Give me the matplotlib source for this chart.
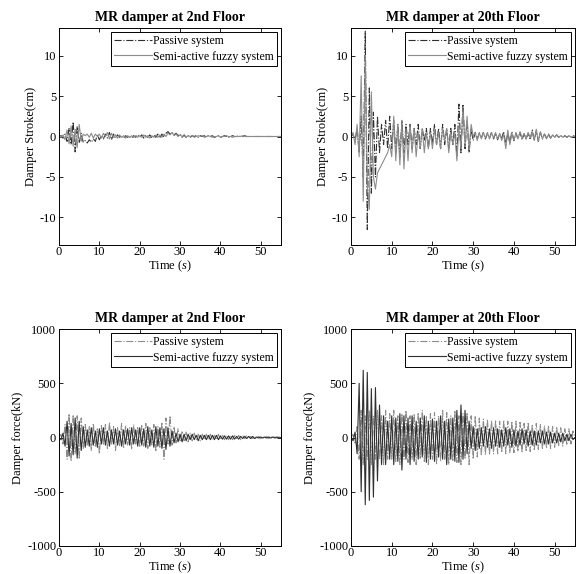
import numpy as np
import matplotlib
matplotlib.use("Agg")
import matplotlib.pyplot as plt

plt.rcParams['font.family'] = ['Liberation Serif', 'DejaVu Serif']
plt.rcParams['font.size'] = 9
plt.rcParams['axes.unicode_minus'] = False
plt.rcParams['mathtext.fontset'] = 'custom'
plt.rcParams['mathtext.rm'] = 'Liberation Serif'
plt.rcParams['mathtext.it'] = 'Liberation Serif:italic'

# Damper stroke (cm), MR damper at 2nd floor
stroke2_passive = [
    0.0, 0.1, -0.2, 0.3, -0.6, 1.0, -1.0, 1.8, -1.9, 1.2,
    -0.8, 0.4, -0.7, -0.5, -0.8, -0.4, -0.7, -0.3, -0.6, 0.2,
    -0.4, 0.1, -0.3, 0.3, -0.2, 0.5, -0.4, 0.3, -0.2, 0.2,
    -0.1, 0.1, -0.2, 0.1, -0.1, 0.1, -0.2, 0.1, -0.1, 0.2,
    -0.1, 0.2, -0.2, 0.1, -0.1, 0.2, -0.2, 0.2, -0.1, 0.3,
    -0.2, 0.3, -0.1, 0.4, 0.6, 0.3, 0.5, 0.2, 0.4, 0.1,
    0.3, -0.1, 0.2, -0.1, 0.1, -0.1, 0.1, 0.0, 0.1, -0.1,
    0.1, 0.0, 0.1, -0.1, 0.1, 0.0, 0.1, -0.1, 0.0, 0.1,
    -0.1, 0.0, 0.1, 0.0, -0.1, 0.0, 0.1, 0.0, 0.0, 0.1,
    0.0, 0.0, 0.1, 0.0, 0.0, 0.0, 0.0, 0.0, 0.0, 0.0,
    0.0, 0.0, 0.0, 0.0, 0.0, 0.0, 0.0, 0.0, 0.0, 0.0,
    0.0]
stroke2_fuzzy = [
    0.0, -0.1, 0.2, -0.4, 0.8, -0.9, 1.3, -1.2, 0.9, -1.4,
    1.5, -0.6, 0.3, 0.1, 0.3, -0.1, 0.4, -0.2, 0.3, 0.0,
    0.3, -0.2, 0.4, 0.0, 0.5, -0.3, 0.4, -0.1, 0.2, -0.2,
    0.2, -0.1, 0.1, -0.2, 0.1, -0.1, 0.1, -0.1, 0.1, -0.1,
    0.1, -0.1, 0.2, -0.1, 0.1, -0.2, 0.1, -0.1, 0.2, -0.1,
    0.2, -0.1, 0.3, 0.0, 0.4, 0.2, 0.5, 0.1, 0.3, 0.0,
    0.2, 0.0, 0.1, -0.1, 0.1, 0.0, 0.1, -0.1, 0.0, 0.1,
    0.0, 0.1, -0.1, 0.0, 0.1, 0.0, -0.1, 0.0, 0.0, 0.1,
    -0.1, 0.0, 0.0, 0.1, 0.0, 0.0, -0.1, 0.0, 0.0, 0.0,
    0.0, 0.1, 0.0, 0.0, 0.0, 0.0, 0.0, 0.0, 0.0, 0.0,
    0.0, 0.0, 0.0, 0.0, 0.0, 0.0, 0.0, 0.0, 0.0, 0.0,
    0.0]

# Damper stroke (cm), MR damper at 20th floor
stroke20_passive = [
    0.0, 0.3, -0.5, 1.0, -2.0, 2.5, -5.0, 13.0, -11.5, 6.0,
    -7.0, 3.0, -5.0, 2.5, -2.0, 1.5, -1.0, 2.0, -1.5, 2.5,
    -1.5, 2.0, -2.0, 1.5, -2.5, 2.0, -2.0, 1.5, -1.0, 1.5,
    -1.5, 1.0, -1.0, 1.5, -1.5, 1.0, -0.5, 1.0, -1.5, 1.0,
    -1.0, 1.5, -1.0, 1.0, -1.5, 1.5, -1.0, 1.0, -1.5, 1.0,
    -1.0, 1.5, -2.5, 4.0, -2.0, 4.0, -1.5, 2.0, -2.0, 1.0,
    -0.5, 0.5, -0.3, 0.4, -0.2, 0.5, -0.3, 0.4, -0.2, 0.5,
    -0.3, 0.4, -0.4, 0.3, -0.2, 0.6, -1.0, 0.5, -0.8, 0.6,
    -0.5, 0.4, -0.3, 0.5, -0.4, 0.3, -0.3, 0.4, -0.4, 0.8,
    -0.5, 0.7, -0.6, 0.5, -0.3, 0.3, -0.2, 0.3, -0.2, 0.2,
    -0.1, 0.2, -0.1, 0.1, -0.1, 0.1, -0.1, 0.1, 0.0, 0.1,
    0.0]
stroke20_fuzzy = [
    0.0, 0.5, -1.0, 1.5, -2.5, 7.5, -8.0, 10.0, -6.0, -9.0,
    5.5, -5.0, -6.5, -4.5, -4.0, -3.5, -3.0, -2.5, -2.0, -1.0,
    -2.5, 2.5, -3.0, 1.5, -3.5, 2.0, -4.0, 1.0, -3.0, 1.5,
    -2.0, 1.0, -2.5, 0.5, -1.5, 1.0, -2.0, 0.5, -1.5, 0.5,
    -1.5, 1.0, -1.0, 0.5, -1.5, 1.0, -0.5, 1.0, -2.0, 0.5,
    -1.0, 0.5, -3.0, 1.0, -1.5, 3.5, -1.0, 2.5, -1.5, 1.5,
    0.0, 0.5, -0.5, 0.5, -0.3, 0.5, -0.2, 0.5, -0.3, 0.5,
    -0.2, 0.5, -0.3, 0.4, -0.5, 0.3, -1.5, 0.8, -1.0, 0.4,
    -0.5, 0.5, -0.3, 0.6, -0.2, 0.4, -0.3, 0.5, -0.2, 0.6,
    -0.5, 0.9, -0.6, 0.6, -0.3, 0.3, -0.3, 0.2, -0.2, 0.2,
    -0.1, 0.2, -0.1, 0.1, -0.1, 0.1, -0.1, 0.1, -0.1, 0.0,
    0.0]

# Damper force (kN), MR damper at 2nd floor
force2_passive = [
    0, 30, -60, 120, -200, 220, -220, 210, -150, 200,
    -200, 180, -100, 120, -80, 100, -120, 130, -90, 80,
    -150, 110, -70, 120, -100, 140, -60, 100, -120, 90,
    -80, 130, -100, 110, -70, 90, -110, 120, -60, 100,
    -90, 110, -80, 130, -100, 90, -70, 120, -130, 100,
    -90, 140, -200, 180, -60, 200, -70, 100, -50, 80,
    -40, 60, -30, 50, -40, 40, -30, 40, -20, 30,
    -30, 30, -20, 30, -20, 30, -20, 20, -20, 30,
    -20, 20, -20, 20, -20, 20, -20, 20, -10, 20,
    -20, 20, -10, 20, -10, 10, -10, 10, -10, 10,
    -10, 10, -10, 10, -10, 10, -5, 5, -5, 5,
    0]
force2_fuzzy = [
    0, -20, 40, -80, 150, -170, 130, -160, 180, -190,
    150, -120, 100, -90, 70, -80, 90, -70, 60, -90,
    80, -60, 90, -70, 60, -80, 70, -60, 80, -70,
    60, -80, 70, -60, 80, -70, 90, -60, 70, -80,
    90, -70, 80, -90, 100, -80, 70, -90, 100, -80,
    90, -100, 80, -110, 90, -80, 60, -50, 40, -40,
    30, -40, 30, -30, 30, -20, 30, -20, 20, -30,
    20, -20, 20, -20, 20, -20, 20, -20, 20, -20,
    15, -15, 15, -15, 15, -15, 15, -15, 10, -15,
    10, -10, 10, -10, 10, -10, 10, -10, 5, -5,
    5, -5, 5, -5, 5, -5, 5, -5, 5, -5,
    0]

# Damper force (kN), MR damper at 20th floor
force20_passive = [
    0, 30, -50, 100, -200, 250, -250, 200, -200, 250,
    -250, 200, -200, 250, -200, 200, -250, 250, -200, 220,
    -200, 250, -220, 200, -250, 220, -200, 250, -230, 200,
    -200, 220, -250, 230, -200, 250, -220, 200, -250, 220,
    -200, 230, -250, 200, -220, 250, -200, 230, -250, 200,
    -220, 250, -230, 200, -250, 220, -200, 230, -250, 200,
    -200, 200, -180, 180, -170, 170, -160, 170, -160, 160,
    -150, 160, -150, 150, -140, 160, -150, 150, -140, 150,
    -140, 150, -130, 140, -140, 130, -120, 140, -130, 120,
    -120, 130, -110, 120, -110, 110, -100, 110, -100, 100,
    -90, 100, -80, 90, -80, 80, -70, 80, -60, 60,
    0]
force20_fuzzy = [
    0, -30, 50, -150, 500, -500, 620, -620, 600, -580,
    450, -550, 460, -400, 300, -250, 200, -250, 150, -200,
    200, -250, 180, -220, 220, -300, 200, -200, 180, -250,
    200, -220, 150, -200, 180, -180, 200, -230, 150, -200,
    170, -220, 150, -180, 200, -200, 150, -250, 170, -200,
    180, -220, 250, -230, 300, -200, 250, -150, 150, -100,
    100, -120, 80, -100, 90, -80, 100, -90, 80, -100,
    90, -80, 80, -90, 70, -80, 90, -70, 80, -90,
    70, -80, 60, -70, 80, -60, 70, -80, 60, -70,
    60, -70, 60, -50, 60, -60, 50, -60, 50, -50,
    40, -50, 40, -40, 40, -30, 30, -30, 30, -20,
    0]

titles = ["MR damper at 2nd Floor", "MR damper at 20th Floor",
          "MR damper at 2nd Floor", "MR damper at 20th Floor"]

dark = "#303030"
light = "#8c8c8c"

fig = plt.figure(figsize=(5.76, 5.74), dpi=100)
W, H = 576, 574
boxes = [(59, 28, 222, 217), (351, 28, 224, 217),
         (59, 329, 222, 217), (351, 329, 224, 217)]
axes = [fig.add_axes([x / W, 1 - (y + h) / H, w / W, h / H]) for x, y, w, h in boxes]

panels = [
    (stroke2_passive, stroke2_fuzzy, dark, light, "Damper Stroke(cm)", 13.4, [-10, -5, 0, 5, 10]),
    (stroke20_passive, stroke20_fuzzy, dark, light, "Damper Stroke(cm)", 13.4, [-10, -5, 0, 5, 10]),
    (force2_passive, force2_fuzzy, light, dark, "Damper force(kN)", 1000, [-1000, -500, 0, 500, 1000]),
    (force20_passive, force20_fuzzy, light, dark, "Damper force(kN)", 1000, [-1000, -500, 0, 500, 1000]),
]

for ax, title, (passive, fuzzy, c_p, c_f, ylab, ylim, yt) in zip(axes, titles, panels):
    t_p = np.linspace(0, 55, len(passive))
    t_f = np.linspace(0, 55, len(fuzzy))
    ax.plot(t_p, passive, color=c_p, linestyle='-.', linewidth=0.8, label="Passive system")
    ax.plot(t_f, fuzzy, color=c_f, linestyle='-', linewidth=0.8, label="Semi-active fuzzy system")
    ax.set_xlim(0, 55)
    ax.set_ylim(-ylim, ylim)
    ax.set_xticks([0, 10, 20, 30, 40, 50])
    ax.set_yticks(yt)
    ax.tick_params(direction='in', top=True, right=True, length=3, width=0.6, labelsize=9, pad=2)
    ax.tick_params(axis='x', pad=1)
    for s in ax.spines.values():
        s.set_linewidth(0.7)
    ax.set_title(title, fontsize=10, fontweight='bold', pad=5)
    ax.set_xlabel("Time ($s$)", fontsize=9, labelpad=0)
    ax.set_ylabel(ylab, fontsize=9, labelpad=2)
    leg = ax.legend(loc='upper right', fontsize=8.5, fancybox=False, framealpha=1,
                    edgecolor='black', borderaxespad=0.3, handlelength=3.2,
                    handletextpad=0.1, borderpad=0.3, labelspacing=0.3)
    leg.get_frame().set_linewidth(0.7)

fig.savefig("out.png", dpi=100)
